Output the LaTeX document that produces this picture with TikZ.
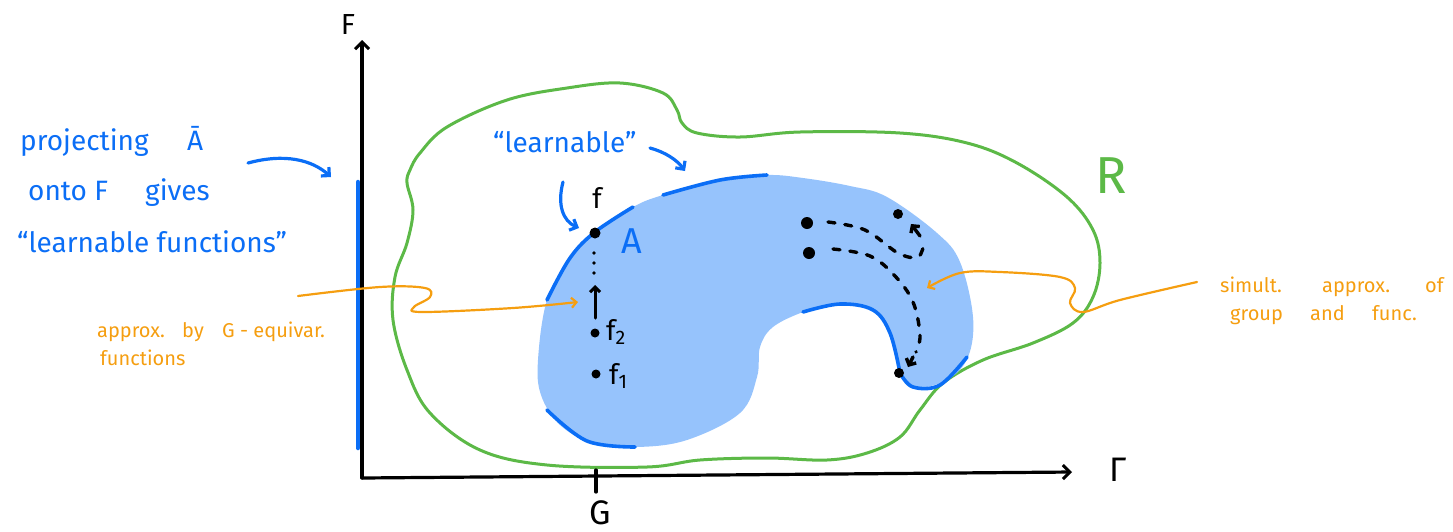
\documentclass[tikz,border=0pt]{standalone}
\usepackage{fontspec}
\setmainfont{Fira Sans}
\usetikzlibrary{arrows.meta}
\definecolor{fillblue}{HTML}{96C3FC}
\definecolor{edgeblue}{HTML}{0B6EF6}
\definecolor{rgreen}{HTML}{5CB947}
\definecolor{aorange}{HTML}{F59E10}
\begin{document}
\begin{tikzpicture}[x=1pt,y=-1pt,line cap=round,line join=round,
  axisline/.style={line width=3.2pt,-{Straight Barb[length=7pt,width=14pt,line width=3pt]}},
  bluearrow/.style={edgeblue,line width=3.2pt,-{Straight Barb[length=6pt,width=12pt]}},
  orarrow/.style={aorange,line width=2.2pt,-{Straight Barb[length=5pt,width=10pt]}},
  edge/.style={edgeblue,line width=3.6pt},
  dashline/.style={line width=3.4pt,dash pattern=on 7pt off 10pt},
  tipline/.style={line width=3.4pt,-{Straight Barb[length=5pt,width=11pt]}},
  bluetext/.style={edgeblue,font=\fontsize{28}{32}\selectfont,anchor=base west,inner sep=0pt},
  ortext/.style={aorange,font=\fontsize{20}{24}\selectfont,anchor=base west,inner sep=0pt},
  lbl/.style={inner sep=0pt},
  bigdot/.style={circle,fill=black,inner sep=0pt,minimum size=#1}]
\useasboundingbox (0,0) rectangle (1453,531);

% region R
\draw[rgreen,line width=3pt] plot[smooth cycle,tension=0.6] coordinates {
 (410,170) (420,153) (447,127) (507,100) (567,88) (620,83) (663,93) (677,110) (682,123)
 (697,133) (740,137) (800,132) (900,133) (967,143) (1017,163) (1067,197) (1093,230)
 (1100,263) (1093,297) (1073,323) (1033,343) (983,360) (943,383) (920,410) (900,437)
 (867,453) (827,460) (767,458) (700,460) (647,467) (547,465) (480,450) (430,413)
 (407,370) (393,320) (395,277) (407,243) (413,210) (407,183)};

% set A
\fill[fillblue] plot[smooth cycle,tension=0.6] coordinates {
 (538,360) (547,300) (570,258) (595,232) (633,207) (663,195) (720,180) (767,175)
 (803,178) (850,186) (887,197) (937,233) (960,262) (973,317) (968,357) (947,380)
 (913,388) (900,373) (890,333) (867,307) (833,304) (803,312) (773,327) (760,347)
 (757,377) (740,413) (687,440) (637,447) (593,443) (560,425) (541,395)};

% boundary pieces of A
\draw[edge] plot[smooth,tension=0.6] coordinates {(547,300) (570,258) (595,232) (633,207)};
\draw[edge] plot[smooth,tension=0.6] coordinates {(663,195) (720,180) (767,175)};
\draw[edge] plot[smooth,tension=0.6] coordinates {(547,410) (587,441) (635,447)};
\draw[edge] plot[smooth,tension=0.6] coordinates {(803,312) (840,304) (873,310) (890,333) (900,373)};
\draw[edge] plot[smooth,tension=0.6] coordinates {(900,373) (913,387) (940,385) (967,357)};

% axes
\coordinate (O) at (362,478);
\coordinate (Ftip) at (362,40);
\coordinate (Gtip) at (1072,472);
\draw[axisline] (O) -- (Ftip);
\draw[axisline] (O) -- (Gtip);
\coordinate (tickA) at (596,470);
\coordinate (tickB) at (596,492);
\draw[line width=3.2pt] (tickA) -- (tickB);
\node[lbl,font=\fontsize{29}{30}\selectfont] (Flab) at (348,25) {F};
\node[lbl,font=\fontsize{34}{36}\selectfont] (Gammalab) at (1118,470) {Γ};
\node[lbl,font=\fontsize{34}{36}\selectfont] (Glab) at (600,513) {G};
\node[lbl,rgreen,font=\fontsize{52}{56}\selectfont] (Rlab) at (1111,176) {R};
\node[lbl,edgeblue,font=\fontsize{36}{40}\selectfont] (Alab) at (632,241) {A};

% projection bar
\coordinate (barT) at (358,182);
\coordinate (barB) at (358,448);
\draw[edgeblue,line width=4.5pt] (barT) -- (barB);

% left blue text
\node[bluetext] (t1) at (20,150) {projecting};
\node[bluetext] (t1b) at (187,150) {Ā};
\node[bluetext] (t2) at (28,200) {onto F};
\node[bluetext] (t2b) at (145,200) {gives};
\node[bluetext] (t3) at (17,252) {“learnable functions”};
\coordinate (pa1) at (248,163);
\coordinate (pa2) at (331,177);
\draw[bluearrow] (pa1) .. controls (285,153) and (312,160) .. (pa2);

% learnable
\node[bluetext] (lt) at (493,152) {“learnable”};
\coordinate (la1) at (650,148);
\coordinate (la2) at (685,171);
\draw[bluearrow] (la1) .. controls (665,152) and (677,160) .. (la2);
\coordinate (fa1) at (563,182);
\coordinate (fa2) at (579,228);
\draw[bluearrow] (fa1) .. controls (557,205) and (563,221) .. (fa2);

% sequence f_n -> f
\node[bigdot=11pt] (f) at (595,233) {};
\node[bigdot=9pt] (f2) at (595,333) {};
\node[bigdot=9pt] (f1) at (596,374) {};
\node[bigdot=3.6pt] (d1) at (594,253) {};
\node[bigdot=3.6pt] (d2) at (594,263) {};
\node[bigdot=3.6pt] (d3) at (594,273) {};
\coordinate (sa1) at (595,318);
\coordinate (sa2) at (595,285);
\draw[line width=3pt,-{Straight Barb[length=5pt,width=10pt]}] (sa1) -- (sa2);
\node[lbl,font=\fontsize{28}{30}\selectfont] (flab) at (597,198) {f};
\node[lbl,font=\fontsize{28}{30}\selectfont,anchor=west] (f2lab) at (606,332) {f\textsubscript{2}};
\node[lbl,font=\fontsize{28}{30}\selectfont,anchor=west] (f1lab) at (609,376) {f\textsubscript{1}};

% right points and dashed paths
\node[bigdot=12pt] (r1) at (807,223) {};
\node[bigdot=12pt] (r2) at (809,253) {};
\node[bigdot=10pt] (r3) at (898,214) {};
\node[bigdot=10pt] (r4) at (899,373) {};
\draw[dashline] plot[smooth,tension=0.6] coordinates {(828,222) (865,230) (898,253) (918,257) (924,243)};
\coordinate (u1) at (920,236);
\coordinate (u2) at (911,224);
\draw[tipline] (u1) -- (u2);
\draw[dashline] plot[smooth,tension=0.6] coordinates {(833,249) (870,256) (895,276) (913,302) (920,335) (916,352)};
\coordinate (v1) at (913,357);
\coordinate (v2) at (908,367);
\draw[tipline] (v1) -- (v2);

% orange annotations
\node[ortext] (o1) at (97,337) {approx.};
\node[ortext] (o2) at (182,337) {by};
\node[ortext] (o3) at (222,337) {G - equivar.};
\node[ortext] (o4) at (100,365) {functions};
\draw[orarrow] plot[smooth,tension=0.6] coordinates {(298,296) (380,287) (425,288) (430,297) (414,307) (422,312) (513,308) (578,302)};

\node[ortext] (p1) at (1220,292) {simult.};
\node[ortext] (p2) at (1322,292) {approx.};
\node[ortext] (p3) at (1425,292) {of};
\node[ortext] (p4) at (1230,320) {group};
\node[ortext] (p5) at (1310,320) {and};
\node[ortext] (p6) at (1372,320) {func.};
\draw[orarrow] plot[smooth,tension=0.6] coordinates {(1197,282) (1120,300) (1083,312) (1070,303) (1075,288) (1060,277) (1000,272) (960,273) (927,288)};
\end{tikzpicture}
\end{document}
